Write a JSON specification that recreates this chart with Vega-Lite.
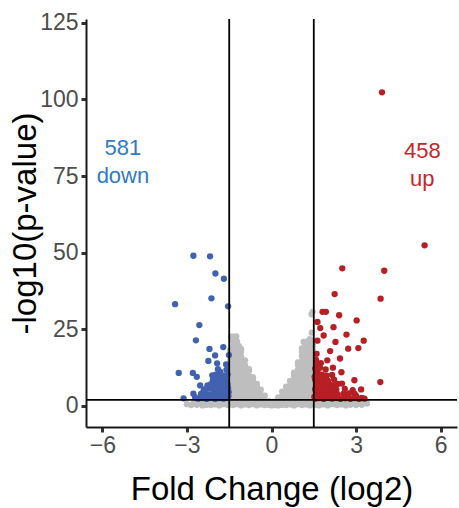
{
  "$schema": "https://vega.github.io/schema/vega-lite/v6.json",
  "width": 371,
  "height": 408,
  "autosize": {"type": "none"},
  "padding": {"left": 86, "top": 19, "right": 2, "bottom": 81},
  "background": "white",
  "config": {
    "view": {"stroke": null},
    "axis": {
      "grid": false,
      "domainColor": "#1a1a1a",
      "domainWidth": 2,
      "tickColor": "#333333",
      "tickWidth": 3,
      "tickSize": 5,
      "labelFont": "Liberation Sans",
      "labelFontSize": 23,
      "labelColor": "#4d4d4d",
      "titleFont": "Liberation Sans",
      "titleFontSize": 33,
      "titleFontWeight": "normal",
      "titleColor": "#000000"
    }
  },
  "datasets": {
    "pts": [
      {"fc": -1.55, "p": 0.3, "g": "ns"}, {"fc": -1.6, "p": 1.3, "g": "ns"}, {"fc": -1.7, "p": 0.6, "g": "ns"}, {"fc": -1.78, "p": 1.5, "g": "ns"},
      {"fc": -1.85, "p": 0.2, "g": "ns"}, {"fc": -1.92, "p": 1.1, "g": "ns"}, {"fc": -2.0, "p": 0.5, "g": "ns"}, {"fc": -2.08, "p": 1.4, "g": "ns"},
      {"fc": -2.15, "p": 0.3, "g": "ns"}, {"fc": -2.22, "p": 1.0, "g": "ns"}, {"fc": -2.3, "p": 0.4, "g": "ns"}, {"fc": -2.38, "p": 1.3, "g": "ns"},
      {"fc": -2.45, "p": 0.2, "g": "ns"}, {"fc": -2.55, "p": 0.9, "g": "ns"}, {"fc": -2.65, "p": 0.4, "g": "ns"}, {"fc": -2.75, "p": 1.1, "g": "ns"},
      {"fc": -2.85, "p": 0.3, "g": "ns"}, {"fc": -3.0, "p": 0.6, "g": "ns"},
      {"fc": 1.55, "p": 0.4, "g": "ns"}, {"fc": 1.6, "p": 1.4, "g": "ns"}, {"fc": 1.68, "p": 0.2, "g": "ns"}, {"fc": 1.76, "p": 1.0, "g": "ns"},
      {"fc": 1.84, "p": 0.5, "g": "ns"}, {"fc": 1.92, "p": 1.5, "g": "ns"}, {"fc": 2.0, "p": 0.2, "g": "ns"}, {"fc": 2.08, "p": 1.1, "g": "ns"},
      {"fc": 2.16, "p": 0.6, "g": "ns"}, {"fc": 2.24, "p": 1.4, "g": "ns"}, {"fc": 2.32, "p": 0.3, "g": "ns"}, {"fc": 2.4, "p": 1.0, "g": "ns"},
      {"fc": 2.48, "p": 0.5, "g": "ns"}, {"fc": 2.56, "p": 1.3, "g": "ns"}, {"fc": 2.64, "p": 0.2, "g": "ns"}, {"fc": 2.72, "p": 0.9, "g": "ns"},
      {"fc": 2.8, "p": 0.4, "g": "ns"}, {"fc": 2.9, "p": 1.2, "g": "ns"}, {"fc": 3.0, "p": 0.3, "g": "ns"}, {"fc": 3.1, "p": 0.8, "g": "ns"},
      {"fc": 3.2, "p": 0.4, "g": "ns"}, {"fc": 3.3, "p": 1.0, "g": "ns"}, {"fc": 3.39, "p": 0.8, "g": "ns"},
      {"fc": 0.0, "p": 0.2, "g": "ns"}, {"fc": 0.0, "p": 1.0, "g": "ns"}, {"fc": -0.05, "p": 0.6, "g": "ns"}, {"fc": 0.05, "p": 0.5, "g": "ns"},
      {"fc": 0.1, "p": 0.3, "g": "ns"}, {"fc": 0.1, "p": 1.4, "g": "ns"}, {"fc": -0.1, "p": 0.4, "g": "ns"}, {"fc": -0.1, "p": 1.6, "g": "ns"},
      {"fc": -0.24, "p": 0.3, "g": "ns"}, {"fc": -0.24, "p": 1.8, "g": "ns"}, {"fc": -0.24, "p": 3.4, "g": "ns"},
      {"fc": -0.38, "p": 0.5, "g": "ns"}, {"fc": -0.38, "p": 2.0, "g": "ns"}, {"fc": -0.38, "p": 3.6, "g": "ns"}, {"fc": -0.38, "p": 5.3, "g": "ns"},
      {"fc": -0.52, "p": 0.2, "g": "ns"}, {"fc": -0.52, "p": 1.7, "g": "ns"}, {"fc": -0.52, "p": 3.3, "g": "ns"}, {"fc": -0.52, "p": 4.9, "g": "ns"}, {"fc": -0.52, "p": 6.6, "g": "ns"}, {"fc": -0.52, "p": 7.2, "g": "ns"},
      {"fc": -0.66, "p": 0.6, "g": "ns"}, {"fc": -0.66, "p": 2.2, "g": "ns"}, {"fc": -0.66, "p": 3.8, "g": "ns"}, {"fc": -0.66, "p": 5.4, "g": "ns"}, {"fc": -0.66, "p": 7.0, "g": "ns"}, {"fc": -0.66, "p": 8.6, "g": "ns"}, {"fc": -0.66, "p": 9.4, "g": "ns"},
      {"fc": -0.8, "p": 0.3, "g": "ns"}, {"fc": -0.8, "p": 1.9, "g": "ns"}, {"fc": -0.8, "p": 3.5, "g": "ns"}, {"fc": -0.8, "p": 5.1, "g": "ns"}, {"fc": -0.8, "p": 6.7, "g": "ns"}, {"fc": -0.8, "p": 8.3, "g": "ns"}, {"fc": -0.8, "p": 9.9, "g": "ns"}, {"fc": -0.8, "p": 11.5, "g": "ns"}, {"fc": -0.8, "p": 12.0, "g": "ns"},
      {"fc": -0.94, "p": 0.5, "g": "ns"}, {"fc": -0.94, "p": 2.1, "g": "ns"}, {"fc": -0.94, "p": 3.7, "g": "ns"}, {"fc": -0.94, "p": 5.3, "g": "ns"}, {"fc": -0.94, "p": 6.9, "g": "ns"}, {"fc": -0.94, "p": 8.5, "g": "ns"}, {"fc": -0.94, "p": 10.1, "g": "ns"}, {"fc": -0.94, "p": 11.7, "g": "ns"}, {"fc": -0.94, "p": 13.3, "g": "ns"}, {"fc": -0.94, "p": 14.9, "g": "ns"},
      {"fc": -1.08, "p": 0.2, "g": "ns"}, {"fc": -1.08, "p": 1.8, "g": "ns"}, {"fc": -1.08, "p": 3.4, "g": "ns"}, {"fc": -1.08, "p": 5.0, "g": "ns"}, {"fc": -1.08, "p": 6.6, "g": "ns"}, {"fc": -1.08, "p": 8.2, "g": "ns"}, {"fc": -1.08, "p": 9.8, "g": "ns"}, {"fc": -1.08, "p": 11.4, "g": "ns"}, {"fc": -1.08, "p": 13.0, "g": "ns"}, {"fc": -1.08, "p": 14.6, "g": "ns"}, {"fc": -1.08, "p": 16.2, "g": "ns"}, {"fc": -1.08, "p": 17.8, "g": "ns"}, {"fc": -1.08, "p": 18.5, "g": "ns"},
      {"fc": -1.22, "p": 0.6, "g": "ns"}, {"fc": -1.22, "p": 2.2, "g": "ns"}, {"fc": -1.22, "p": 3.8, "g": "ns"}, {"fc": -1.22, "p": 5.4, "g": "ns"}, {"fc": -1.22, "p": 7.0, "g": "ns"}, {"fc": -1.22, "p": 8.6, "g": "ns"}, {"fc": -1.22, "p": 10.2, "g": "ns"}, {"fc": -1.22, "p": 11.8, "g": "ns"}, {"fc": -1.22, "p": 13.4, "g": "ns"}, {"fc": -1.22, "p": 15.0, "g": "ns"}, {"fc": -1.22, "p": 16.6, "g": "ns"}, {"fc": -1.22, "p": 18.2, "g": "ns"}, {"fc": -1.22, "p": 19.8, "g": "ns"}, {"fc": -1.22, "p": 21.0, "g": "ns"},
      {"fc": -1.36, "p": 0.3, "g": "ns"}, {"fc": -1.36, "p": 1.9, "g": "ns"}, {"fc": -1.36, "p": 3.5, "g": "ns"}, {"fc": -1.36, "p": 5.1, "g": "ns"}, {"fc": -1.36, "p": 6.7, "g": "ns"}, {"fc": -1.36, "p": 8.3, "g": "ns"}, {"fc": -1.36, "p": 9.9, "g": "ns"}, {"fc": -1.36, "p": 11.5, "g": "ns"}, {"fc": -1.36, "p": 13.1, "g": "ns"}, {"fc": -1.36, "p": 14.7, "g": "ns"}, {"fc": -1.36, "p": 16.3, "g": "ns"}, {"fc": -1.36, "p": 17.9, "g": "ns"}, {"fc": -1.36, "p": 19.5, "g": "ns"}, {"fc": -1.36, "p": 21.1, "g": "ns"}, {"fc": -1.36, "p": 22.6, "g": "ns"},
      {"fc": -1.47, "p": 0.5, "g": "ns"}, {"fc": -1.47, "p": 2.1, "g": "ns"}, {"fc": -1.47, "p": 3.7, "g": "ns"}, {"fc": -1.47, "p": 5.3, "g": "ns"}, {"fc": -1.47, "p": 6.9, "g": "ns"}, {"fc": -1.47, "p": 8.5, "g": "ns"}, {"fc": -1.47, "p": 10.1, "g": "ns"}, {"fc": -1.47, "p": 11.7, "g": "ns"}, {"fc": -1.47, "p": 13.3, "g": "ns"}, {"fc": -1.47, "p": 14.9, "g": "ns"}, {"fc": -1.47, "p": 16.5, "g": "ns"}, {"fc": -1.47, "p": 18.2, "g": "ns"},
      {"fc": -1.25, "p": 22.7, "g": "ns"}, {"fc": -1.3, "p": 22.3, "g": "ns"}, {"fc": -1.43, "p": 22.6, "g": "ns"}, {"fc": -1.15, "p": 19.5, "g": "ns"},
      {"fc": 0.24, "p": 0.2, "g": "ns"}, {"fc": 0.24, "p": 1.5, "g": "ns"}, {"fc": 0.24, "p": 2.8, "g": "ns"},
      {"fc": 0.38, "p": 0.4, "g": "ns"}, {"fc": 0.38, "p": 1.9, "g": "ns"}, {"fc": 0.38, "p": 3.3, "g": "ns"}, {"fc": 0.38, "p": 4.7, "g": "ns"},
      {"fc": 0.52, "p": 0.3, "g": "ns"}, {"fc": 0.52, "p": 1.8, "g": "ns"}, {"fc": 0.52, "p": 3.3, "g": "ns"}, {"fc": 0.52, "p": 4.8, "g": "ns"}, {"fc": 0.52, "p": 6.3, "g": "ns"},
      {"fc": 0.66, "p": 0.5, "g": "ns"}, {"fc": 0.66, "p": 2.0, "g": "ns"}, {"fc": 0.66, "p": 3.6, "g": "ns"}, {"fc": 0.66, "p": 5.2, "g": "ns"}, {"fc": 0.66, "p": 6.8, "g": "ns"}, {"fc": 0.66, "p": 8.2, "g": "ns"},
      {"fc": 0.8, "p": 0.2, "g": "ns"}, {"fc": 0.8, "p": 1.8, "g": "ns"}, {"fc": 0.8, "p": 3.4, "g": "ns"}, {"fc": 0.8, "p": 5.0, "g": "ns"}, {"fc": 0.8, "p": 6.6, "g": "ns"}, {"fc": 0.8, "p": 8.2, "g": "ns"}, {"fc": 0.8, "p": 9.8, "g": "ns"}, {"fc": 0.8, "p": 10.9, "g": "ns"},
      {"fc": 0.94, "p": 0.6, "g": "ns"}, {"fc": 0.94, "p": 2.2, "g": "ns"}, {"fc": 0.94, "p": 3.8, "g": "ns"}, {"fc": 0.94, "p": 5.4, "g": "ns"}, {"fc": 0.94, "p": 7.0, "g": "ns"}, {"fc": 0.94, "p": 8.6, "g": "ns"}, {"fc": 0.94, "p": 10.2, "g": "ns"}, {"fc": 0.94, "p": 11.8, "g": "ns"}, {"fc": 0.94, "p": 13.4, "g": "ns"}, {"fc": 0.94, "p": 14.2, "g": "ns"},
      {"fc": 1.08, "p": 0.3, "g": "ns"}, {"fc": 1.08, "p": 1.9, "g": "ns"}, {"fc": 1.08, "p": 3.5, "g": "ns"}, {"fc": 1.08, "p": 5.1, "g": "ns"}, {"fc": 1.08, "p": 6.7, "g": "ns"}, {"fc": 1.08, "p": 8.3, "g": "ns"}, {"fc": 1.08, "p": 9.9, "g": "ns"}, {"fc": 1.08, "p": 11.5, "g": "ns"}, {"fc": 1.08, "p": 13.1, "g": "ns"}, {"fc": 1.08, "p": 14.7, "g": "ns"}, {"fc": 1.08, "p": 16.3, "g": "ns"}, {"fc": 1.08, "p": 17.8, "g": "ns"}, {"fc": 1.08, "p": 18.8, "g": "ns"},
      {"fc": 1.22, "p": 0.5, "g": "ns"}, {"fc": 1.22, "p": 2.1, "g": "ns"}, {"fc": 1.22, "p": 3.7, "g": "ns"}, {"fc": 1.22, "p": 5.3, "g": "ns"}, {"fc": 1.22, "p": 6.9, "g": "ns"}, {"fc": 1.22, "p": 8.5, "g": "ns"}, {"fc": 1.22, "p": 10.1, "g": "ns"}, {"fc": 1.22, "p": 11.7, "g": "ns"}, {"fc": 1.22, "p": 13.3, "g": "ns"}, {"fc": 1.22, "p": 14.9, "g": "ns"}, {"fc": 1.22, "p": 16.5, "g": "ns"}, {"fc": 1.22, "p": 18.1, "g": "ns"}, {"fc": 1.22, "p": 19.7, "g": "ns"}, {"fc": 1.22, "p": 21.0, "g": "ns"},
      {"fc": 1.36, "p": 0.2, "g": "ns"}, {"fc": 1.36, "p": 1.8, "g": "ns"}, {"fc": 1.36, "p": 3.4, "g": "ns"}, {"fc": 1.36, "p": 5.0, "g": "ns"}, {"fc": 1.36, "p": 6.6, "g": "ns"}, {"fc": 1.36, "p": 8.2, "g": "ns"}, {"fc": 1.36, "p": 9.8, "g": "ns"}, {"fc": 1.36, "p": 11.4, "g": "ns"}, {"fc": 1.36, "p": 13.0, "g": "ns"}, {"fc": 1.36, "p": 14.6, "g": "ns"}, {"fc": 1.36, "p": 16.2, "g": "ns"}, {"fc": 1.36, "p": 17.8, "g": "ns"}, {"fc": 1.36, "p": 19.4, "g": "ns"}, {"fc": 1.36, "p": 21.0, "g": "ns"}, {"fc": 1.36, "p": 21.8, "g": "ns"},
      {"fc": 1.47, "p": 0.6, "g": "ns"}, {"fc": 1.47, "p": 2.2, "g": "ns"}, {"fc": 1.47, "p": 3.8, "g": "ns"}, {"fc": 1.47, "p": 5.4, "g": "ns"}, {"fc": 1.47, "p": 7.0, "g": "ns"}, {"fc": 1.47, "p": 8.6, "g": "ns"}, {"fc": 1.47, "p": 10.2, "g": "ns"}, {"fc": 1.47, "p": 11.8, "g": "ns"}, {"fc": 1.47, "p": 13.4, "g": "ns"}, {"fc": 1.47, "p": 15.0, "g": "ns"}, {"fc": 1.47, "p": 16.6, "g": "ns"}, {"fc": 1.47, "p": 18.2, "g": "ns"}, {"fc": 1.47, "p": 19.8, "g": "ns"}, {"fc": 1.47, "p": 21.2, "g": "ns"},
      {"fc": 1.14, "p": 20.9, "g": "ns"}, {"fc": 1.43, "p": 23.9, "g": "ns"}, {"fc": 1.42, "p": 29.9, "g": "ns"}, {"fc": 1.46, "p": 30.7, "g": "ns"},

      {"fc": -2.77, "p": 49.0, "g": "down"}, {"fc": -2.18, "p": 48.8, "g": "down"}, {"fc": -1.99, "p": 43.2, "g": "down"}, {"fc": -1.69, "p": 41.5, "g": "down"},
      {"fc": -3.42, "p": 33.2, "g": "down"}, {"fc": -2.13, "p": 35.1, "g": "down"}, {"fc": -1.54, "p": 32.5, "g": "down"}, {"fc": -2.56, "p": 26.4, "g": "down"},
      {"fc": -2.68, "p": 21.4, "g": "down"}, {"fc": -2.2, "p": 18.6, "g": "down"}, {"fc": -1.71, "p": 19.2, "g": "down"}, {"fc": -2.0, "p": 16.5, "g": "down"},
      {"fc": -1.51, "p": 16.6, "g": "down"}, {"fc": -2.24, "p": 14.7, "g": "down"}, {"fc": -1.93, "p": 13.9, "g": "down"}, {"fc": -1.61, "p": 13.6, "g": "down"},
      {"fc": -3.29, "p": 10.8, "g": "down"}, {"fc": -2.79, "p": 10.8, "g": "down"}, {"fc": -2.65, "p": 9.5, "g": "down"}, {"fc": -2.1, "p": 10.0, "g": "down"},
      {"fc": -1.82, "p": 11.1, "g": "down"}, {"fc": -3.12, "p": 2.5, "g": "down"}, {"fc": -2.77, "p": 4.0, "g": "down"}, {"fc": -2.71, "p": 2.9, "g": "down"},
      {"fc": -2.41, "p": 4.9, "g": "down"}, {"fc": -2.27, "p": 6.7, "g": "down"}, {"fc": -2.53, "p": 6.7, "g": "down"}, {"fc": -2.24, "p": 5.7, "g": "down"},
      {"fc": -2.6, "p": 2.4, "g": "down"}, {"fc": -2.45, "p": 2.6, "g": "down"}, {"fc": -2.3, "p": 2.3, "g": "down"}, {"fc": -2.15, "p": 2.7, "g": "down"},
      {"fc": -2.0, "p": 2.3, "g": "down"}, {"fc": -1.85, "p": 2.6, "g": "down"}, {"fc": -1.7, "p": 2.4, "g": "down"}, {"fc": -1.57, "p": 2.7, "g": "down"},
      {"fc": -2.5, "p": 3.9, "g": "down"}, {"fc": -2.35, "p": 4.1, "g": "down"}, {"fc": -2.2, "p": 3.8, "g": "down"}, {"fc": -2.05, "p": 4.2, "g": "down"},
      {"fc": -1.9, "p": 3.9, "g": "down"}, {"fc": -1.75, "p": 4.1, "g": "down"}, {"fc": -1.6, "p": 3.8, "g": "down"},
      {"fc": -2.38, "p": 5.4, "g": "down"}, {"fc": -2.1, "p": 5.6, "g": "down"}, {"fc": -1.95, "p": 5.3, "g": "down"}, {"fc": -1.8, "p": 5.7, "g": "down"},
      {"fc": -1.65, "p": 5.4, "g": "down"}, {"fc": -1.54, "p": 5.8, "g": "down"},
      {"fc": -2.15, "p": 7.1, "g": "down"}, {"fc": -2.0, "p": 6.9, "g": "down"}, {"fc": -1.85, "p": 7.2, "g": "down"}, {"fc": -1.7, "p": 6.9, "g": "down"}, {"fc": -1.56, "p": 7.1, "g": "down"},
      {"fc": -2.08, "p": 8.5, "g": "down"}, {"fc": -1.93, "p": 8.3, "g": "down"}, {"fc": -1.78, "p": 8.7, "g": "down"}, {"fc": -1.62, "p": 8.4, "g": "down"},
      {"fc": -1.98, "p": 10.2, "g": "down"}, {"fc": -1.7, "p": 9.9, "g": "down"}, {"fc": -1.56, "p": 10.3, "g": "down"},
      {"fc": -1.9, "p": 12.0, "g": "down"}, {"fc": -1.6, "p": 11.8, "g": "down"},
      {"fc": -2.0, "p": 3.2, "g": "down"}, {"fc": -1.75, "p": 6.2, "g": "down"}, {"fc": -1.65, "p": 9.2, "g": "down"}, {"fc": -1.52, "p": 4.5, "g": "down"},
      {"fc": -1.53, "p": 3.2, "g": "down"}, {"fc": -1.88, "p": 9.5, "g": "down"},

      {"fc": 3.92, "p": 102.3, "g": "up"}, {"fc": 5.43, "p": 52.4, "g": "up"}, {"fc": 4.0, "p": 44.1, "g": "up"}, {"fc": 2.51, "p": 44.9, "g": "up"},
      {"fc": 2.24, "p": 36.5, "g": "up"}, {"fc": 3.87, "p": 35.0, "g": "up"}, {"fc": 1.81, "p": 30.7, "g": "up"}, {"fc": 1.93, "p": 30.7, "g": "up"},
      {"fc": 2.4, "p": 29.6, "g": "up"}, {"fc": 3.02, "p": 27.9, "g": "up"}, {"fc": 1.63, "p": 27.4, "g": "up"}, {"fc": 2.2, "p": 25.7, "g": "up"},
      {"fc": 1.73, "p": 25.4, "g": "up"}, {"fc": 2.66, "p": 23.3, "g": "up"}, {"fc": 1.85, "p": 23.0, "g": "up"}, {"fc": 3.27, "p": 21.3, "g": "up"},
      {"fc": 2.27, "p": 20.9, "g": "up"}, {"fc": 1.63, "p": 21.3, "g": "up"}, {"fc": 2.72, "p": 18.7, "g": "up"}, {"fc": 3.08, "p": 18.9, "g": "up"},
      {"fc": 2.08, "p": 17.9, "g": "up"}, {"fc": 2.43, "p": 15.5, "g": "up"}, {"fc": 1.98, "p": 14.9, "g": "up"}, {"fc": 1.63, "p": 13.6, "g": "up"},
      {"fc": 2.18, "p": 12.5, "g": "up"}, {"fc": 1.92, "p": 11.9, "g": "up"}, {"fc": 2.48, "p": 11.0, "g": "up"}, {"fc": 1.63, "p": 11.4, "g": "up"},
      {"fc": 3.86, "p": 7.8, "g": "up"}, {"fc": 2.94, "p": 8.4, "g": "up"}, {"fc": 2.5, "p": 7.3, "g": "up"}, {"fc": 3.18, "p": 5.4, "g": "up"},
      {"fc": 2.88, "p": 5.2, "g": "up"}, {"fc": 2.56, "p": 4.0, "g": "up"}, {"fc": 2.7, "p": 3.0, "g": "up"}, {"fc": 3.0, "p": 3.3, "g": "up"},
      {"fc": 3.2, "p": 2.6, "g": "up"},
      {"fc": 1.56, "p": 2.4, "g": "up"}, {"fc": 1.7, "p": 2.6, "g": "up"}, {"fc": 1.85, "p": 2.3, "g": "up"}, {"fc": 2.0, "p": 2.7, "g": "up"},
      {"fc": 2.15, "p": 2.4, "g": "up"}, {"fc": 2.3, "p": 2.6, "g": "up"}, {"fc": 2.45, "p": 2.3, "g": "up"}, {"fc": 2.62, "p": 2.5, "g": "up"},
      {"fc": 2.8, "p": 2.3, "g": "up"}, {"fc": 2.95, "p": 2.6, "g": "up"}, {"fc": 3.1, "p": 2.3, "g": "up"}, {"fc": 3.3, "p": 2.4, "g": "up"},
      {"fc": 1.6, "p": 4.0, "g": "up"}, {"fc": 1.75, "p": 3.8, "g": "up"}, {"fc": 1.9, "p": 4.2, "g": "up"}, {"fc": 2.05, "p": 3.9, "g": "up"},
      {"fc": 2.2, "p": 4.1, "g": "up"}, {"fc": 2.35, "p": 3.8, "g": "up"}, {"fc": 2.75, "p": 4.1, "g": "up"}, {"fc": 2.95, "p": 3.9, "g": "up"},
      {"fc": 1.55, "p": 5.5, "g": "up"}, {"fc": 1.7, "p": 5.3, "g": "up"}, {"fc": 1.85, "p": 5.7, "g": "up"}, {"fc": 2.0, "p": 5.4, "g": "up"},
      {"fc": 2.15, "p": 5.6, "g": "up"}, {"fc": 2.3, "p": 5.3, "g": "up"}, {"fc": 2.6, "p": 5.6, "g": "up"},
      {"fc": 1.6, "p": 7.0, "g": "up"}, {"fc": 1.75, "p": 7.2, "g": "up"}, {"fc": 1.9, "p": 6.9, "g": "up"}, {"fc": 2.05, "p": 7.1, "g": "up"},
      {"fc": 2.2, "p": 6.8, "g": "up"}, {"fc": 2.35, "p": 7.2, "g": "up"},
      {"fc": 1.55, "p": 8.6, "g": "up"}, {"fc": 1.7, "p": 8.4, "g": "up"}, {"fc": 1.88, "p": 8.7, "g": "up"}, {"fc": 2.0, "p": 8.3, "g": "up"}, {"fc": 2.22, "p": 8.6, "g": "up"},
      {"fc": 1.6, "p": 10.0, "g": "up"}, {"fc": 1.78, "p": 10.2, "g": "up"}, {"fc": 1.95, "p": 9.9, "g": "up"}, {"fc": 2.15, "p": 10.1, "g": "up"},
      {"fc": 1.55, "p": 12.2, "g": "up"}, {"fc": 1.72, "p": 12.5, "g": "up"},
      {"fc": 1.58, "p": 15.0, "g": "up"}, {"fc": 1.75, "p": 14.0, "g": "up"}, {"fc": 1.6, "p": 17.0, "g": "up"}, {"fc": 1.52, "p": 3.0, "g": "up"}, {"fc": 1.53, "p": 9.5, "g": "up"}
    ],
    "vlines": [{"fc": -1.5}, {"fc": 1.5}],
    "hlines": [{"p": 2}],
    "labels": [
      {"fc": -5.27, "p": 82, "t": "581\ndown", "c": "down"},
      {"fc": 5.35, "p": 81, "t": "458\nup", "c": "up"}
    ]
  },
  "layer": [
    {
      "data": {"name": "pts"},
      "mark": {"type": "point", "filled": true, "size": 40, "opacity": 1, "strokeWidth": 0},
      "encoding": {
        "x": {"field": "fc", "type": "quantitative", "scale": {"domain": [-6.58, 6.58], "nice": false, "zero": false},
              "axis": {"values": [-6, -3, 0, 3, 6], "title": "Fold Change (log2)", "labelPadding": 2, "titlePadding": 16}},
        "y": {"field": "p", "type": "quantitative", "scale": {"domain": [-6.85, 126.2], "nice": false, "zero": false},
              "axis": {"values": [0, 25, 50, 75, 100, 125], "title": "-log10(p-value)", "labelPadding": 3, "titlePadding": -3}},
        "color": {"field": "g", "type": "nominal", "legend": null,
                  "scale": {"domain": ["ns", "down", "up"], "range": ["#bebebe", "#4262b0", "#b71f24"]}}
      }
    },
    {
      "data": {"name": "vlines"},
      "mark": {"type": "rule", "color": "#000000", "strokeWidth": 1.8},
      "encoding": {"x": {"field": "fc", "type": "quantitative", "title": "Fold Change (log2)"}}
    },
    {
      "data": {"name": "hlines"},
      "mark": {"type": "rule", "color": "#000000", "strokeWidth": 1.8},
      "encoding": {"y": {"field": "p", "type": "quantitative", "title": "-log10(p-value)"}}
    },
    {
      "data": {"name": "labels"},
      "mark": {"type": "text", "font": "Liberation Sans", "fontSize": 22, "align": "center", "baseline": "alphabetic", "lineBreak": "\n", "lineHeight": 28.7},
      "encoding": {
        "x": {"field": "fc", "type": "quantitative", "title": "Fold Change (log2)"},
        "y": {"field": "p", "type": "quantitative", "title": "-log10(p-value)"},
        "text": {"field": "t", "type": "nominal"},
        "color": {"field": "c", "type": "nominal", "legend": null,
                  "scale": {"domain": ["down", "up"], "range": ["#2f7bc6", "#c4272c"]}}
      }
    }
  ],
  "resolve": {"scale": {"color": "independent"}}
}
